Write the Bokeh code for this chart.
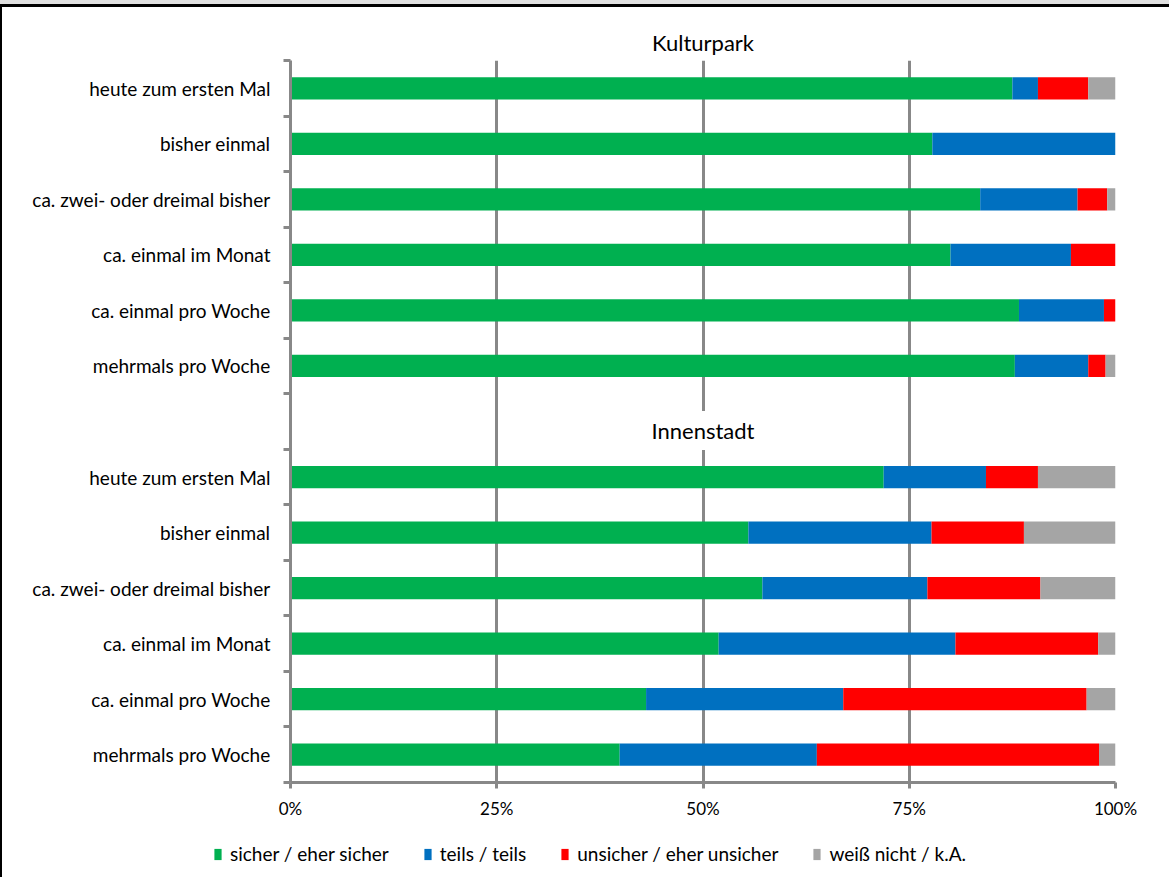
from bokeh.plotting import figure
from bokeh.layouts import column
from bokeh.models import (Range1d, FixedTicker, PrintfTickFormatter, Legend,
                          LegendItem, Label, ColumnDataSource)
from bokeh.embed import file_html
from bokeh.resources import INLINE

# Visit frequency (rows, top to bottom within each group)
frequency = [
    "heute zum ersten Mal",
    "bisher einmal",
    "ca. zwei- oder dreimal bisher",
    "ca. einmal im Monat",
    "ca. einmal pro Woche",
    "mehrmals pro Woche",
]
groups = ["Kulturpark", "Innenstadt"]
answers = ["sicher / eher sicher", "teils / teils",
           "unsicher / eher unsicher", "weiß nicht / k.A."]
colors = ["#00B050", "#0070C0", "#FF0000", "#A5A5A5"]

# Shares in percent
kultur_sicher = [87.5, 77.8, 83.6, 80.0, 88.3, 87.8]
kultur_teils = [3.1, 22.2, 11.8, 14.6, 10.3, 8.9]
kultur_unsicher = [6.1, 0.0, 3.6, 5.4, 1.4, 2.1]
kultur_weiss = [3.3, 0.0, 1.0, 0.0, 0.0, 1.2]

innen_sicher = [71.9, 55.5, 57.2, 51.9, 43.1, 39.9]
innen_teils = [12.4, 22.2, 20.0, 28.7, 23.9, 23.9]
innen_unsicher = [6.3, 11.2, 13.7, 17.3, 29.5, 34.2]
innen_weiss = [9.4, 11.1, 9.1, 2.1, 3.5, 2.0]

x_ticks = [0, 25, 50, 75, 100]

# 13 slots: 6 rows Kulturpark, one empty slot, 6 rows Innenstadt
n = len(frequency)
n_slots = 2 * n + 1
y_kultur = [n_slots - 0.5 - i for i in range(n)]
y_innen = [n - 0.5 - i for i in range(n)]
y_all = y_kultur + y_innen

keys = ["sicher", "teils", "unsicher", "weiss"]
source = ColumnDataSource(dict(
    y=y_all,
    sicher=kultur_sicher + innen_sicher,
    teils=kultur_teils + innen_teils,
    unsicher=kultur_unsicher + innen_unsicher,
    weiss=kultur_weiss + innen_weiss,
))

FONT = "Lato"
GRID = "#888888"
LW = 3
W = 1167

p = figure(width=W, height=823, output_backend="svg", toolbar_location=None,
           x_range=Range1d(0, 100), y_range=Range1d(0, n_slots),
           min_border_left=288, min_border_right=54,
           min_border_top=53, min_border_bottom=48,
           title=groups[0])
p.outline_line_color = None
p.background_fill_color = "white"
p.border_fill_color = "white"

p.title.align = "center"
p.title.text_font = FONT
p.title.text_font_size = "22px"
p.title.text_font_style = "normal"
p.title.text_color = "black"
p.title.standoff = 9

renderers = p.hbar_stack(keys, y="y", height=0.4, color=colors,
                         line_color=None, source=source)

# x axis
p.xaxis.ticker = FixedTicker(ticks=x_ticks)
p.xaxis.formatter = PrintfTickFormatter(format="%d%%")
p.xaxis.axis_line_color = GRID
p.xaxis.axis_line_width = LW
p.xaxis.major_tick_line_color = GRID
p.xaxis.major_tick_line_width = LW
p.xaxis.major_tick_in = 0
p.xaxis.major_tick_out = 6
p.xaxis.minor_tick_line_color = None
p.xaxis.major_label_standoff = 9
p.xaxis.major_label_text_font = FONT
p.xaxis.major_label_text_font_size = "17px"
p.xaxis.major_label_text_color = "black"

# y axis: labels at row centres, tick marks between rows
overrides = {}
for yy, lab in zip(y_kultur, frequency):
    overrides[yy] = lab
for yy, lab in zip(y_innen, frequency):
    overrides[yy] = lab
p.yaxis.ticker = FixedTicker(ticks=y_all, minor_ticks=list(range(n_slots + 1)))
p.yaxis.major_label_overrides = overrides
p.yaxis.axis_line_color = GRID
p.yaxis.axis_line_width = LW
p.yaxis.major_tick_line_color = None
p.yaxis.major_tick_in = 0
p.yaxis.major_tick_out = 0
p.yaxis.minor_tick_line_color = GRID
p.yaxis.minor_tick_line_width = LW
p.yaxis.minor_tick_in = 0
p.yaxis.minor_tick_out = 7
p.yaxis.major_label_standoff = 13
p.yaxis.major_label_text_font = FONT
p.yaxis.major_label_text_font_size = "19px"
p.yaxis.major_label_text_color = "black"

p.xgrid.ticker = FixedTicker(ticks=x_ticks[1:])
p.xgrid.grid_line_color = GRID
p.xgrid.grid_line_width = LW
p.ygrid.grid_line_color = None

# heading of the lower group, sitting in the empty slot
p.add_layout(Label(x=50, y=6.34, text=groups[1], text_align="center",
                   text_baseline="middle", text_font=FONT,
                   text_font_size="22px", text_color="black",
                   background_fill_color="white", padding=6))

# legend strip underneath the chart
leg = figure(width=W, height=47, output_backend="svg", toolbar_location=None,
             x_range=Range1d(0, 1), y_range=Range1d(0, 1),
             min_border=0, x_axis_location=None, y_axis_location=None)
if "frame_align" in leg.properties():
    leg.frame_align = False
leg.outline_line_color = None
leg.grid.visible = False
leg.border_fill_color = "white"
leg.background_fill_color = "white"
nan = float("nan")
# swatch-only renderers (no visible geometry, they just feed the legend)
swatches = [leg.hbar(y=[nan], right=[nan], height=1, color=c, line_color=None)
            for c in colors]
legend = Legend(
    items=[LegendItem(label=a, renderers=[r]) for a, r in zip(answers, swatches)],
    orientation="horizontal", location=(211, 12),
    glyph_width=9, glyph_height=14, label_standoff=8, spacing=34,
    padding=0, margin=0, border_line_color=None, background_fill_alpha=0,
    label_text_font=FONT, label_text_font_size="19px", label_text_color="black",
)
leg.add_layout(legend, "center")

framed = column(p, leg, spacing=0,
                styles={"border-top": "3px solid black",
                        "border-left": "2px solid black"})
page = column(framed, spacing=0, styles={"border-top": "4px solid #E0E0E0"})

open("out.html", "w").write(file_html(page, INLINE))
